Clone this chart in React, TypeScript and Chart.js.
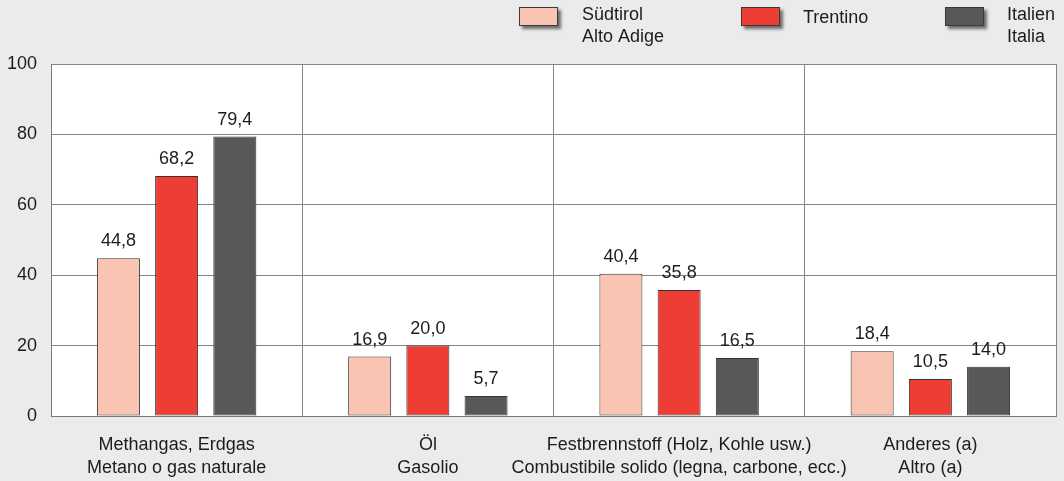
import React, { useEffect, useRef } from "react";
import { Chart, registerables } from "chart.js";

Chart.register(...registerables);

const categories: string[][] = [
  ["Methangas, Erdgas", "Metano o gas naturale"],
  ["Öl", "Gasolio"],
  ["Festbrennstoff (Holz, Kohle usw.)", "Combustibile solido (legna, carbone, ecc.)"],
  ["Anderes (a)", "Altro (a)"],
];
const suedtirol = [44.8, 16.9, 40.4, 18.4];
const trentino = [68.2, 20.0, 35.8, 10.5];
const italien = [79.4, 5.7, 16.5, 14.0];
const seriesLabels: string[][] = [["Südtirol", "Alto Adige"], ["Trentino"], ["Italien", "Italia"]];
const seriesColors = ["#f9c4b1", "#ee3d34", "#58585a"];
const yMin = 0;
const yMax = 100;
const yStep = 20;

const FONT = "'Liberation Sans', Arial, sans-serif";
const TEXT = "#1e1b1c";

const bgPlugin = {
  id: "bgPlugin",
  beforeDraw(chart: any) {
    const { ctx, chartArea } = chart;
    ctx.save();
    ctx.fillStyle = "#ebebeb";
    ctx.fillRect(0, 0, chart.width, chart.height);
    ctx.fillStyle = "#ffffff";
    ctx.fillRect(chartArea.left, chartArea.top, chartArea.right - chartArea.left, chartArea.bottom - chartArea.top);
    ctx.restore();
  },
};

const labelPlugin = {
  id: "labelPlugin",
  afterDatasetsDraw(chart: any) {
    const { ctx } = chart;
    ctx.save();
    ctx.font = `18px ${FONT}`;
    ctx.fillStyle = TEXT;
    ctx.textAlign = "center";
    ctx.textBaseline = "alphabetic";
    chart.data.datasets.forEach((ds: any, i: number) => {
      const meta = chart.getDatasetMeta(i);
      meta.data.forEach((el: any, j: number) => {
        const v = ds.data[j] as number;
        ctx.fillText(v.toFixed(1).replace(".", ","), el.x, el.y - 12);
      });
    });
    ctx.restore();
  },
};

const legendPlugin = {
  id: "customLegend",
  afterDraw(chart: any) {
    const { ctx } = chart;
    const boxX = [519, 741, 945];
    const textX = [582, 803, 1007];
    ctx.save();
    chart.data.datasets.forEach((ds: any, i: number) => {
      ctx.save();
      ctx.shadowColor = "rgba(0,0,0,0.55)";
      ctx.shadowOffsetX = 3;
      ctx.shadowOffsetY = 3;
      ctx.shadowBlur = 3;
      ctx.fillStyle = ds.backgroundColor;
      ctx.fillRect(boxX[i], 7, 39, 19);
      ctx.restore();
      ctx.strokeStyle = "#3a3a3a";
      ctx.lineWidth = 1;
      ctx.strokeRect(boxX[i] + 0.5, 7.5, 38, 18);
      ctx.font = `18px ${FONT}`;
      ctx.fillStyle = TEXT;
      ctx.textAlign = "left";
      ctx.textBaseline = "alphabetic";
      const lines = seriesLabels[i];
      if (lines.length === 1) {
        ctx.fillText(lines[0], textX[i], 23);
      } else {
        lines.forEach((l, k) => ctx.fillText(l, textX[i], 19.5 + k * 22));
      }
    });
    ctx.restore();
  },
};

export default function App() {
  const ref = useRef<HTMLCanvasElement | null>(null);
  useEffect(() => {
    if (!ref.current) return;
    const chart = new Chart(ref.current, {
      type: "bar",
      data: {
        labels: categories,
        datasets: [suedtirol, trentino, italien].map((d, i) => ({
          label: seriesLabels[i].join(" / "),
          data: d,
          backgroundColor: seriesColors[i],
          borderColor: "#333333",
          borderWidth: 1,
          borderSkipped: false,
          categoryPercentage: 0.695,
          barPercentage: 0.739,
        })),
      },
      options: {
        responsive: false,
        animation: false,
        devicePixelRatio: 1,
        layout: { padding: { top: 64, right: 8, left: 0, bottom: 0 } },
        plugins: { legend: { display: false }, tooltip: { enabled: false } },
        scales: {
          x: {
            offset: true,
            grid: { display: true, offset: true, color: "#858585", lineWidth: 1, drawTicks: false },
            border: { display: true, color: "#7a7a7a", width: 1 },
            ticks: {
              color: TEXT,
              font: { family: FONT, size: 18, lineHeight: 1.25 },
              padding: 18,
              maxRotation: 0,
              autoSkip: false,
            },
            afterFit: (s: any) => {
              s.height = 65;
            },
          },
          y: {
            min: yMin,
            max: yMax,
            grid: { color: "#858585", lineWidth: 1, drawTicks: false },
            border: { display: true, color: "#7a7a7a", width: 1 },
            ticks: {
              stepSize: yStep,
              color: TEXT,
              font: { family: FONT, size: 18 },
              padding: 14,
            },
            afterFit: (s: any) => {
              s.width = 51;
            },
          },
        },
      },
      plugins: [bgPlugin, labelPlugin, legendPlugin],
    });
    return () => chart.destroy();
  }, []);
  return (
    <div style={{ position: "fixed", left: 0, top: 0, width: 1064, height: 481, background: "#ebebeb" }}>
      <canvas ref={ref} width={1064} height={481} style={{ display: "block", width: 1064, height: 481 }} />
    </div>
  );
}
